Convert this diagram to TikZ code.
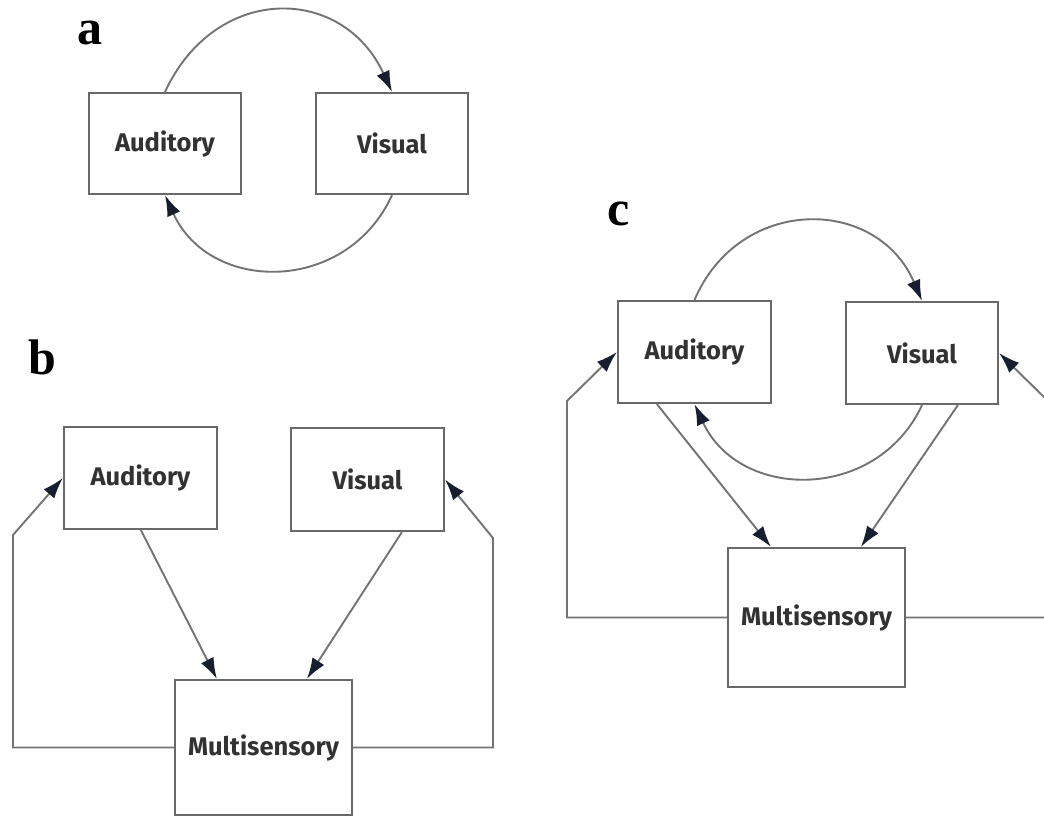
\documentclass[tikz,border=0pt]{standalone}
\usepackage{fontspec}
\setsansfont{Fira Sans}
\newfontfamily\panelfont{Liberation Serif}
\definecolor{boxgray}{RGB}{105,105,105}
\definecolor{linegray}{RGB}{115,115,115}
\definecolor{tipnavy}{RGB}{22,30,48}
\definecolor{textgray}{RGB}{50,50,50}
\usetikzlibrary{arrows.meta, calc}

\begin{document}
\begin{tikzpicture}[x=1pt, y=-1pt,
    sense/.style={draw=boxgray, line width=2.2pt, fill=white, inner sep=0pt,
      font=\sffamily\bfseries\fontsize{25.5}{29}\selectfont, text=textgray},
    link/.style={draw=linegray, line width=1.9pt,
      -{Latex[length=21pt, width=14pt, color=tipnavy]}},
    panel/.style={anchor=base, font=\panelfont\bfseries\fontsize{50}{52}\selectfont}]
    \useasboundingbox (0,0) rectangle (1044,816);
    \clip (0,0) rectangle (1044,816);

    % a: auditory <-> visual
    \node[panel] (la) at (90,45) {a};
    \node[sense, minimum width=152pt, minimum height=101pt] (aA) at (165,143.5) {Auditory};
    \node[sense, minimum width=152pt, minimum height=101pt] (aV) at (392,143.5) {Visual};
    \draw[link] (aA.north) .. controls +(50,-108) and +(-50,-108) .. (aV.north);
    \draw[link] (aV.south) .. controls +(-45,99) and +(45,99) .. (aA.south);

    % b: both senses feed the multisensory area, which feeds back
    \node[panel] (lb) at (42,374) {b};
    \node[sense, minimum width=153pt, minimum height=102pt] (bA) at (140.5,478) {Auditory};
    \node[sense, minimum width=153pt, minimum height=103pt] (bV) at (367.5,479.5) {Visual};
    \node[sense, minimum width=177pt, minimum height=135pt] (bM) at (263.5,747.5) {Multisensory};
    \draw[link] ([xshift=78pt]bA.south west) -- ([xshift=43pt]bM.north west);
    \draw[link] ([xshift=112pt]bV.south west) -- ([xshift=133pt]bM.north west);
    \coordinate (bL) at (13,535);
    \coordinate (bR) at (493,538);
    \draw[link] (bM.west) -| (bL) -- (bA.west);
    \draw[link] (bM.east) -| (bR) -- (bV.east);

    % c: direct links plus feedback
    \node[panel] (lc) at (619,225) {c};
    \node[sense, minimum width=153pt, minimum height=102pt] (cA) at (694.5,352) {Auditory};
    \node[sense, minimum width=152pt, minimum height=102pt] (cV) at (922,353) {Visual};
    \node[sense, minimum width=177pt, minimum height=139pt] (cM) at (816.5,617.5) {Multisensory};
    \draw[link] (cA.north) .. controls +(45,-105) and +(-45,-105) .. (cV.north);
    \draw[link] (cV.south) .. controls +(-45,97) and +(45,97) .. (cA.south);
    \draw[link] ([xshift=40pt]cA.south west) -- ([xshift=44pt]cM.north west);
    \draw[link] ([xshift=113pt]cV.south west) -- ([xshift=134pt]cM.north west);
    \coordinate (cL) at (567,401);
    \coordinate (cR) at (1049,402);
    \draw[link] (cM.west) -| (cL) -- (cA.west);
    \draw[link] (cM.east) -| (cR) -- (cV.east);
\end{tikzpicture}
\end{document}
